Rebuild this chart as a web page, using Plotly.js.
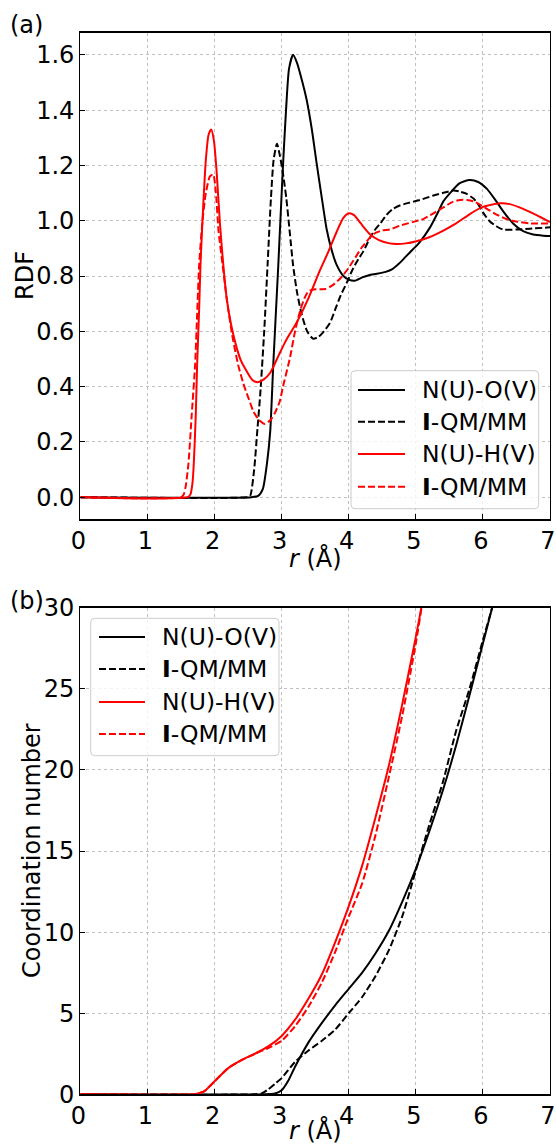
<!DOCTYPE html>
<html><head><meta charset="utf-8">
<script src="https://cdn.plot.ly/plotly-3.0.1.min.js"></script>
<style>html,body{margin:0;padding:0;background:#fff}</style>
</head><body><div id="chart" style="width:556px;height:1145px"></div>
<script>
// ---------- DATA ----------
const seriesNames = ["N(U)-O(V)", "<b>I</b>-QM/MM", "N(U)-H(V)", "<b>I</b>-QM/MM"];
const xTicks = [0, 1, 2, 3, 4, 5, 6, 7];
const rdfTicks = [0.0, 0.2, 0.4, 0.6, 0.8, 1.0, 1.2, 1.4, 1.6];
const cnTicks = [0, 5, 10, 15, 20, 25, 30];
const xTitle = "<i>r</i> (Å)";
const yTitleA = "RDF";
const yTitleB = "Coordination number";

// (a) RDF  N(U)-O(V)
const rdfO_r = [0,2.55,2.65,2.72,2.78,2.83,2.875,2.95,3.02,3.07,3.11,3.17,3.23,3.30,3.37,3.45,3.52,3.60,3.67,3.75,3.82,3.92,4.00,4.09,4.20,4.30,4.42,4.55,4.65,4.75,4.85,4.95,5.05,5.21,5.35,5.41,5.51,5.65,5.80,5.93,6.06,6.20,6.30,6.45,6.60,6.75,6.90,7.0];
const rdfO_g = [0,0,0.005,0.03,0.12,0.24,0.48,0.84,1.20,1.42,1.55,1.60,1.57,1.51,1.44,1.33,1.21,1.08,0.97,0.89,0.84,0.80,0.787,0.783,0.795,0.803,0.808,0.815,0.825,0.845,0.87,0.895,0.92,0.975,1.04,1.07,1.10,1.135,1.147,1.14,1.115,1.07,1.035,0.99,0.962,0.95,0.946,0.945];
// (a) RDF  I-QM/MM (O)
const rdfOq_r = [0,2.48,2.53,2.59,2.64,2.68,2.74,2.79,2.84,2.88,2.93,2.97,3.02,3.07,3.12,3.17,3.23,3.30,3.38,3.47,3.55,3.63,3.72,3.80,3.88,3.97,4.05,4.14,4.22,4.32,4.40,4.47,4.56,4.66,4.76,4.90,5.06,5.25,5.40,5.56,5.66,5.76,5.86,5.93,6.00,6.10,6.20,6.30,6.50,6.70,7.0];
const rdfOq_g = [0,0,0.005,0.10,0.25,0.37,0.60,0.84,1.08,1.22,1.278,1.24,1.17,1.08,0.96,0.84,0.74,0.66,0.60,0.573,0.58,0.60,0.63,0.68,0.73,0.775,0.82,0.86,0.89,0.94,0.97,0.99,1.02,1.043,1.055,1.065,1.075,1.09,1.10,1.109,1.105,1.097,1.08,1.06,1.03,0.998,0.98,0.968,0.968,0.971,0.976];
// (a) RDF  N(U)-H(V)
const rdfH_r = [0,1.60,1.64,1.67,1.69,1.72,1.74,1.77,1.79,1.83,1.87,1.91,1.95,1.99,2.03,2.08,2.13,2.18,2.25,2.33,2.40,2.48,2.56,2.64,2.73,2.83,2.95,3.05,3.12,3.22,3.40,3.57,3.70,3.82,3.92,4.00,4.08,4.18,4.32,4.45,4.61,4.71,4.85,5.01,5.20,5.41,5.60,5.81,6.00,6.25,6.40,6.60,6.80,7.0];
const rdfH_g = [0,0,0.01,0.05,0.12,0.30,0.48,0.68,0.84,1.05,1.22,1.31,1.33,1.29,1.18,0.99,0.84,0.72,0.62,0.54,0.49,0.455,0.425,0.416,0.425,0.45,0.51,0.56,0.59,0.63,0.72,0.82,0.89,0.96,1.01,1.027,1.02,0.99,0.95,0.93,0.918,0.916,0.918,0.926,0.94,0.964,0.99,1.025,1.05,1.063,1.06,1.043,1.02,0.995];
// (a) RDF  I-QM/MM (H)
const rdfHq_r = [0,1.50,1.54,1.57,1.61,1.66,1.71,1.74,1.77,1.82,1.87,1.93,1.98,2.02,2.06,2.12,2.18,2.26,2.35,2.43,2.50,2.58,2.66,2.75,2.83,2.90,2.97,3.02,3.12,3.20,3.27,3.34,3.40,3.50,3.65,3.75,3.87,3.97,4.07,4.20,4.37,4.50,4.61,4.76,4.95,5.11,5.25,5.41,5.55,5.66,5.76,5.86,5.98,6.10,6.22,6.35,6.50,6.70,7.0];
const rdfHq_g = [0,0,0.01,0.04,0.12,0.30,0.48,0.66,0.84,1.00,1.10,1.16,1.167,1.10,0.96,0.84,0.72,0.59,0.48,0.41,0.362,0.31,0.28,0.265,0.278,0.305,0.345,0.40,0.50,0.60,0.67,0.72,0.745,0.752,0.753,0.765,0.79,0.82,0.856,0.905,0.952,0.965,0.968,0.982,0.995,1.006,1.025,1.048,1.068,1.075,1.075,1.07,1.055,1.037,1.02,1.006,0.997,0.99,0.99];

// (b) Coordination number
const cnO_r = [0,2.75,2.9,3.0,3.1,3.2,3.4,3.6,3.8,4.0,4.2,4.4,4.6,4.8,5.0,5.2,5.4,5.6,5.8,6.0,6.15,6.25];
const cnO_n = [0,0,0.05,0.25,0.85,1.7,3.2,4.4,5.5,6.5,7.5,8.7,10.1,11.9,13.9,16.2,18.7,21.5,24.6,27.8,30.2,32.0];
const cnOq_r = [0,2.6,2.7,2.8,2.9,3.0,3.2,3.4,3.6,3.8,4.0,4.2,4.4,4.6,4.8,5.0,5.2,5.4,5.6,5.8,6.0,6.15,6.25];
const cnOq_n = [0,0,0.05,0.3,0.65,1.0,2.0,2.7,3.3,4.0,5.0,6.0,7.3,8.9,11.0,13.8,16.6,19.2,22.4,25.0,28.0,30.2,32.0];
const cnH_r = [0,1.7,1.75,1.85,2.0,2.2,2.4,2.6,2.8,3.0,3.2,3.4,3.6,3.8,4.0,4.2,4.4,4.6,4.8,5.0,5.1,5.2];
const cnH_n = [0,0,0.05,0.2,0.8,1.6,2.1,2.5,2.95,3.6,4.6,5.9,7.4,9.4,11.6,14.1,17.1,20.3,24.1,28.2,30.4,32.6];
const cnHq_r = [0,1.7,1.75,1.85,2.0,2.2,2.4,2.6,2.8,3.0,3.2,3.4,3.6,3.8,4.0,4.2,4.4,4.6,4.8,5.0,5.1,5.2];
const cnHq_n = [0,0,0.05,0.2,0.8,1.6,2.1,2.5,2.85,3.3,4.2,5.4,6.9,8.8,10.95,13.0,16.0,19.6,23.4,27.8,30.4,33.0];

// ---------- STYLE / LAYOUT ----------
const W = 556, H = 1145;
const FONT = "DejaVu Sans, Liberation Sans, sans-serif";
const FS = 24;
const X = px => px / W;
const Y = py => 1 - py / H;
const colors = ["#000000", "#000000", "#ff0000", "#ff0000"];
const dashes = ["solid", "7px,3px", "solid", "7px,3px"];
const LW = 2;

function line(x, y, i, xa, ya) {
  return {
    type: "scatter", mode: "lines", x: x, y: y, name: seriesNames[i],
    xaxis: xa, yaxis: ya, showlegend: false, hoverinfo: "skip",
    line: {color: colors[i], width: LW, dash: dashes[i], shape: "spline", smoothing: 0.6}
  };
}

const traces = [
  line(rdfO_r, rdfO_g, 0, "x", "y"),
  line(rdfOq_r, rdfOq_g, 1, "x", "y"),
  line(rdfH_r, rdfH_g, 2, "x", "y"),
  line(rdfHq_r, rdfHq_g, 3, "x", "y"),
  line(cnO_r, cnO_n, 0, "x2", "y2"),
  line(cnOq_r, cnOq_n, 1, "x2", "y2"),
  line(cnH_r, cnH_n, 2, "x2", "y2"),
  line(cnHq_r, cnHq_n, 3, "x2", "y2")
];

const axCommon = {
  showline: true, mirror: true, linecolor: "#000", linewidth: 1.3,
  ticks: "inside", ticklen: 5, tickwidth: 1, tickcolor: "#000",
  showgrid: true, gridcolor: "#b0b0b0", griddash: "dot", gridwidth: 0.8,
  zeroline: false, automargin: false, ticklabeloverflow: "allow",
  tickfont: {family: FONT, size: FS, color: "#000"}
};

const xDom = [X(80.4), X(550)];
const xRange = [0, 7];
const domA = [Y(519.3), Y(32.7)];
const domB = [Y(1094.3), Y(607.7)];
const xAxisExtra = {range: xRange, tickvals: xTicks, ticklabelshift: -2};
const layout = {
  width: W, height: H,
  margin: {l: 0, r: 0, t: 0, b: 0},
  paper_bgcolor: "#fff", plot_bgcolor: "#fff",
  font: {family: FONT, size: FS, color: "#000"},
  showlegend: false,
  xaxis: Object.assign({}, axCommon, xAxisExtra, {domain: xDom, anchor: "y"}),
  yaxis: Object.assign({}, axCommon, {
    domain: domA, anchor: "x", range: [-0.08, 1.68], tickvals: rdfTicks, tickformat: ".1f"}),
  xaxis2: Object.assign({}, axCommon, xAxisExtra, {domain: xDom, anchor: "y2"}),
  yaxis2: Object.assign({}, axCommon, {domain: domB, anchor: "x2", range: [0, 30], tickvals: cnTicks}),
  shapes: [],
  annotations: []
};

function ann(text, px, py, opts) {
  layout.annotations.push(Object.assign({
    text: text, xref: "paper", yref: "paper", x: X(px), y: Y(py),
    xanchor: "center", yanchor: "middle", showarrow: false,
    font: {family: FONT, size: FS, color: "#000"}
  }, opts || {}));
}
ann("(a)", 8, 25, {xanchor: "left"});
ann("(b)", 8, 601, {xanchor: "left"});
ann(xTitle, 315, 558);
ann(xTitle, 315, 1130);
ann(yTitleA, 25, 276, {textangle: -90});
ann(yTitleB, 32, 851, {textangle: -90});

function roundRect(x0, y0, x1, y1, r) {
  const p = (a, b) => X(a) + "," + Y(b);
  return "M" + p(x0 + r, y0) + " L" + p(x1 - r, y0) + " Q" + p(x1, y0) + " " + p(x1, y0 + r) +
    " L" + p(x1, y1 - r) + " Q" + p(x1, y1) + " " + p(x1 - r, y1) +
    " L" + p(x0 + r, y1) + " Q" + p(x0, y1) + " " + p(x0, y1 - r) +
    " L" + p(x0, y0 + r) + " Q" + p(x0, y0) + " " + p(x0 + r, y0) + " Z";
}

function addLegend(box, lx0, lx1, tx, rows) {
  layout.shapes.push({
    type: "path", xref: "paper", yref: "paper",
    path: roundRect(box[0], box[1], box[2], box[3], 4),
    fillcolor: "rgba(255,255,255,0.8)", line: {color: "#cccccc", width: 1}, layer: "above"
  });
  rows.forEach((ry, i) => {
    layout.shapes.push({
      type: "line", xref: "paper", yref: "paper",
      x0: X(lx0), x1: X(lx1), y0: Y(ry), y1: Y(ry),
      line: {color: colors[i], width: LW, dash: dashes[i]}, layer: "above"
    });
    ann(seriesNames[i], tx, ry, {xanchor: "left", font: {family: FONT, size: 23.5, color: "#000"}});
  });
}
addLegend([351, 370.7, 538.7, 508.7], 358, 405, 420, [390, 421.7, 454, 486.7]);
addLegend([90.7, 618.3, 279, 755.7], 99, 145, 160, [637, 669, 702, 734]);

Plotly.newPlot("chart", traces, layout, {displayModeBar: false, staticPlot: true});
</script>
</body></html>
